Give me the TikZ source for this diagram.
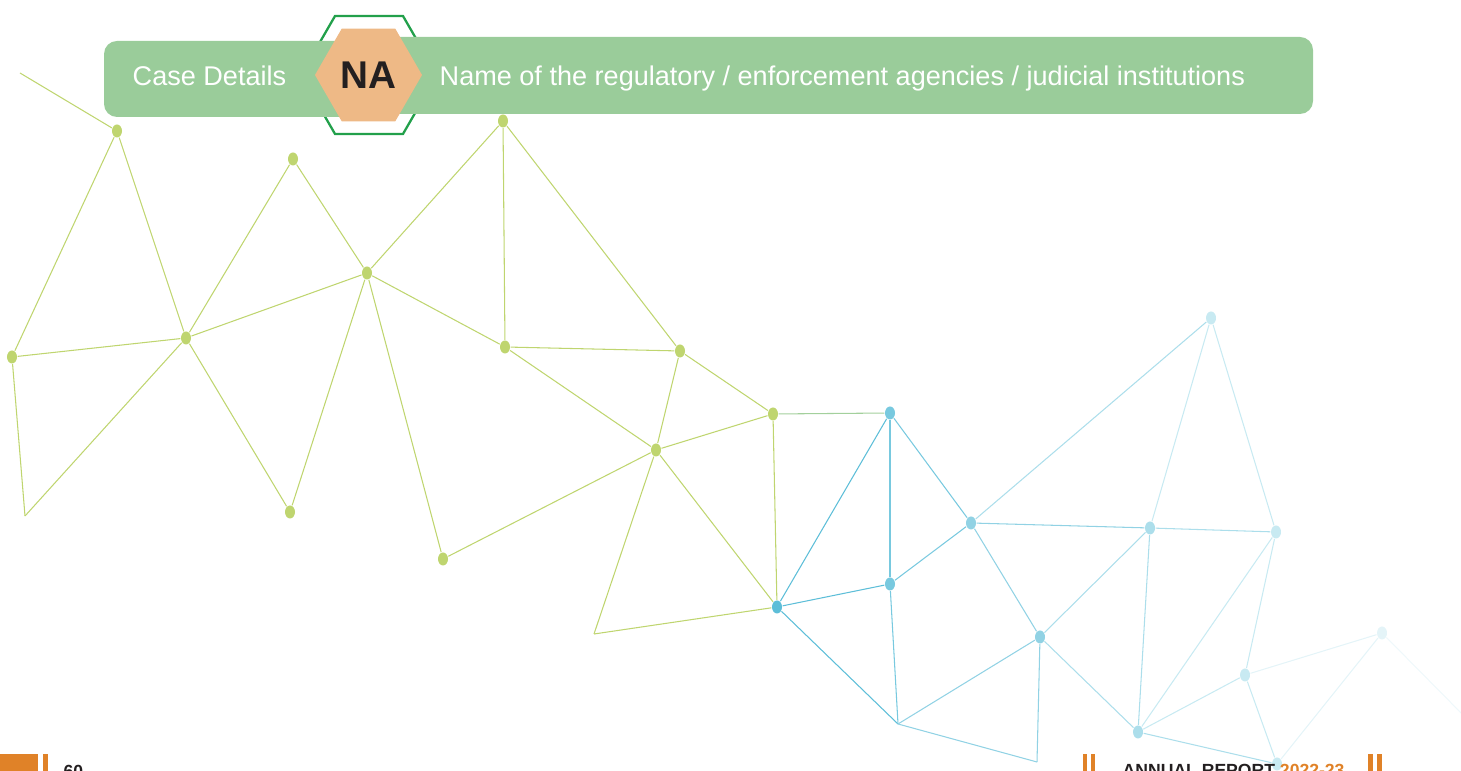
\documentclass[tikz,border=0pt]{standalone}
\usepackage{fontspec}
\setmainfont{Liberation Sans}
\usetikzlibrary{shapes.geometric}
\usepackage{xcolor}
\definecolor{bargreen}{RGB}{154,204,154}
\definecolor{hexorange}{RGB}{238,185,134}
\definecolor{ringgreen}{RGB}{34,160,75}
\definecolor{inkdark}{RGB}{35,31,32}
\definecolor{footorange}{RGB}{224,130,40}
\definecolor{netgreen}{RGB}{191,213,111}
\definecolor{blueA}{RGB}{93,190,216}
\definecolor{blueB}{RGB}{120,201,223}
\definecolor{blueC}{RGB}{145,210,228}
\definecolor{blueD}{RGB}{172,222,235}
\definecolor{blueE}{RGB}{200,234,242}
\definecolor{blueF}{RGB}{228,244,248}
\tikzstyle{dot} = [ellipse, 
minimum width=0.1cm, 
minimum height=0.13cm, 
inner sep=0pt, 
draw=none]
\tikzstyle{link} = [line width=0.3pt]
\tikzstyle{bar} = [fill=bargreen, rounded corners=0.13cm]
\tikzstyle{hexa} = [regular polygon, 
regular polygon sides=6, 
minimum size=1.07cm, 
inner sep=0pt, 
fill=hexorange, 
text=inkdark, 
font=\bfseries\fontsize{11}{13}\selectfont]
\tikzstyle{ring} = [regular polygon, 
regular polygon sides=6, 
minimum size=1.36cm, 
inner sep=0pt, 
draw=ringgreen, 
line width=0.65pt]
\tikzstyle{bartext} = [anchor=base west, inner sep=0pt, text=white, font=\fontsize{7.7}{9}\selectfont]
\tikzstyle{foot} = [anchor=base west, inner sep=0pt, text=inkdark, font=\bfseries\fontsize{5}{6}\selectfont]

\begin{document}
\begin{tikzpicture}[x=0.01cm, y=-0.01cm]
		\useasboundingbox (0,0) rectangle (1461,771);
		\clip (0,0) rectangle (1461,771);
		
		% green part of the net
		\coordinate (g0) at (20,73);
		\node (g1) [dot, fill=netgreen] at (117,131) {};
		\node (g2) [dot, fill=netgreen] at (293,159) {};
		\node (g3) [dot, fill=netgreen] at (186,338) {};
		\node (g4) [dot, fill=netgreen] at (12,357) {};
		\coordinate (g5) at (25,516);
		\node (g6) [dot, fill=netgreen] at (290,512) {};
		\node (g7) [dot, fill=netgreen] at (367,273) {};
		\node (g8) [dot, fill=netgreen] at (503,121) {};
		\node (g9) [dot, fill=netgreen] at (505,347) {};
		\node (g10) [dot, fill=netgreen] at (443,559) {};
		\node (g11) [dot, fill=netgreen] at (680,351) {};
		\node (g12) [dot, fill=netgreen] at (773,414) {};
		\node (g13) [dot, fill=netgreen] at (656,450) {};
		\coordinate (g14) at (594,634);
		
		% blue part of the net
		\node (b1) [dot, fill=blueA] at (777,607) {};
		\node (b2) [dot, fill=blueB] at (890,413) {};
		\node (b3) [dot, fill=blueB] at (890,584) {};
		\node (b4) [dot, fill=blueC] at (971,523) {};
		\node (b5) [dot, fill=blueE] at (1211,318) {};
		\node (b6) [dot, fill=blueD] at (1150,528) {};
		\node (b7) [dot, fill=blueE] at (1276,532) {};
		\node (b8) [dot, fill=blueC] at (1040,637) {};
		\coordinate (b9) at (898,724);
		\coordinate (b10) at (1037,762);
		\node (b11) [dot, fill=blueD] at (1138,732) {};
		\node (b12) [dot, fill=blueE] at (1245,675) {};
		\node (b13) [dot, fill=blueE] at (1277,764) {};
		\node (b14) [dot, fill=blueF] at (1382,633) {};
		\coordinate (b15) at (1470,722);
		
		\draw [link, netgreen] (g0) -- (g1);
		\draw [link, netgreen] (g1) -- (g4);
		\draw [link, netgreen] (g1) -- (g3);
		\draw [link, netgreen] (g4) -- (g3);
		\draw [link, netgreen] (g4) -- (g5);
		\draw [link, netgreen] (g5) -- (g3);
		\draw [link, netgreen] (g3) -- (g2);
		\draw [link, netgreen] (g3) -- (g7);
		\draw [link, netgreen] (g3) -- (g6);
		\draw [link, netgreen] (g2) -- (g7);
		\draw [link, netgreen] (g6) -- (g7);
		\draw [link, netgreen] (g7) -- (g8);
		\draw [link, netgreen] (g7) -- (g9);
		\draw [link, netgreen] (g7) -- (g10);
		\draw [link, netgreen] (g8) -- (g9);
		\draw [link, netgreen] (g8) -- (g11);
		\draw [link, netgreen] (g9) -- (g11);
		\draw [link, netgreen] (g9) -- (g13);
		\draw [link, netgreen] (g11) -- (g13);
		\draw [link, netgreen] (g11) -- (g12);
		\draw [link, netgreen] (g13) -- (g12);
		\draw [link, netgreen] (g13) -- (g10);
		\draw [link, netgreen] (g13) -- (g14);
		\draw [link, netgreen] (g13) -- (b1);
		\draw [link, netgreen] (g12) -- (b1);
		\draw [link, netgreen!60!blueB] (g12) -- (b2);
		\draw [link, netgreen] (g14) -- (b1);
		
		\draw [link, blueA] (b1) -- (b2);
		\draw [link, blueA] (b1) -- (b3);
		\draw [link, blueA] (b1) -- (b9);
		\draw [link, blueB] (b2) -- (b3);
		\draw [link, blueB] (b2) -- (b4);
		\draw [link, blueB] (b3) -- (b4);
		\draw [link, blueB] (b3) -- (b9);
		\draw [link, blueC] (b9) -- (b8);
		\draw [link, blueC] (b9) -- (b10);
		\draw [link, blueC] (b10) -- (b8);
		\draw [link, blueC] (b4) -- (b8);
		\draw [link, blueC] (b4) -- (b6);
		\draw [link, blueD] (b4) -- (b5);
		\draw [link, blueE] (b5) -- (b6);
		\draw [link, blueE] (b5) -- (b7);
		\draw [link, blueD] (b6) -- (b7);
		\draw [link, blueD] (b6) -- (b8);
		\draw [link, blueD] (b6) -- (b11);
		\draw [link, blueE] (b7) -- (b11);
		\draw [link, blueE] (b7) -- (b12);
		\draw [link, blueD] (b8) -- (b11);
		\draw [link, blueE] (b11) -- (b12);
		\draw [link, blueD] (b11) -- (b13);
		\draw [link, blueE] (b12) -- (b13);
		\draw [link, blueF] (b12) -- (b14);
		\draw [link, blueF] (b13) -- (b14);
		\draw [link, blueF!60!white] (b14) -- (b15);
		
		% title band
		\node (ring) [ring] at (369,75) {};
		\fill [bar] (104,41) rectangle (360,117);
		\fill [bar] (380,37) rectangle (1313,114);
		\node (na) [hexa] at (368.5,75) {NA};
		\node (case) [bartext] at (132,86) {Case Details};
		\node (agency) [bartext] at (439,86) {Name of the regulatory / enforcement agencies / judicial institutions};
		
		% footer
		\fill [footorange] (0,754) rectangle (38,771);
		\fill [footorange] (43,754) rectangle (48,771);
		\fill [footorange] (1083,754) rectangle (1087,771);
		\fill [footorange] (1091,754) rectangle (1095,771);
		\fill [footorange] (1368,754) rectangle (1373,771);
		\fill [footorange] (1377,754) rectangle (1382,771);
		\node (pageno) [foot] at (63,777.6) {60};
		\node (report) [foot] at (1122,777) {ANNUAL REPORT \textcolor{footorange}{2022-23}};
		
	\end{tikzpicture}
\end{document}
